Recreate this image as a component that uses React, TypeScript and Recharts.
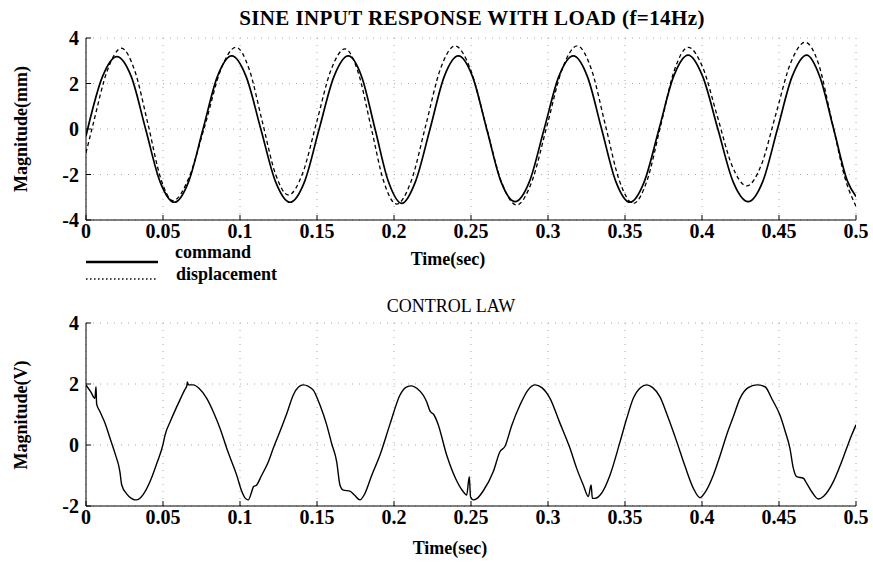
import React from 'react';
import { LineChart, Line, XAxis, YAxis, CartesianGrid } from 'recharts';

const xTicks = [0, 0.05, 0.1, 0.15, 0.2, 0.25, 0.3, 0.35, 0.4, 0.45, 0.5];
const topYTicks = [-4, -2, 0, 2, 4];
const bottomYTicks = [-2, 0, 2, 4];

const topTitle = 'SINE INPUT RESPONSE WITH LOAD (f=14Hz)';
const bottomTitle = 'CONTROL LAW';
const xLabel = 'Time(sec)';
const topYLabel = 'Magnitude(mm)';
const bottomYLabel = 'Magnitude(V)';
const legendNames = ['command', 'displacement'];

const commandTime = [0, 0.0107, 0.020, 0.0294, 0.0387, 0.048, 0.0574, 0.0667, 0.076, 0.0853, 0.0946, 0.104, 0.1135, 0.123, 0.1325, 0.142, 0.1514, 0.161, 0.1703, 0.179, 0.1877, 0.1963, 0.205, 0.214, 0.2234, 0.2326, 0.2418, 0.251, 0.2602, 0.2694, 0.2786, 0.288, 0.2975, 0.307, 0.3164, 0.3256, 0.3348, 0.344, 0.3532, 0.3626, 0.3721, 0.3815, 0.391, 0.4005, 0.4103, 0.4201, 0.430, 0.4395, 0.449, 0.4585, 0.468, 0.4765, 0.4855, 0.4945, 0.5];
const commandValue = [-0.3, 2.3, 3.18, 2.3, 0, -2.3, -3.22, -2.3, 0, 2.3, 3.21, 2.3, 0, -2.3, -3.22, -2.3, 0, 2.3, 3.21, 2.3, 0, -2.3, -3.27, -2.3, 0, 2.3, 3.21, 2.3, 0, -2.3, -3.19, -2.3, 0, 2.3, 3.21, 2.3, 0, -2.3, -3.22, -2.3, 0, 2.3, 3.25, 2.3, 0, -2.3, -3.19, -2.3, 0, 2.3, 3.25, 2.3, 0, -2.3, -2.97];

const displacementTime = [0, 0.0045, 0.0138, 0.023, 0.0316, 0.0403, 0.0485, 0.0565, 0.0667, 0.0775, 0.0875, 0.0974, 0.1059, 0.1144, 0.1229, 0.1314, 0.1406, 0.1498, 0.159, 0.1682, 0.1766, 0.185, 0.1933, 0.2017, 0.2112, 0.2207, 0.2301, 0.2396, 0.2496, 0.2597, 0.2697, 0.2797, 0.2895, 0.2994, 0.3092, 0.319, 0.3281, 0.3372, 0.3463, 0.3554, 0.3643, 0.3732, 0.3821, 0.391, 0.4005, 0.41, 0.4195, 0.429, 0.4385, 0.448, 0.4575, 0.467, 0.4755, 0.4845, 0.4935, 0.5];
const displacementValue = [-1.05, 0.18, 2.56, 3.55, 2.57, 0.2, -2.17, -3.15, -2.16, 0.22, 2.6, 3.59, 2.64, 0.35, -1.95, -2.9, -1.96, 0.31, 2.58, 3.52, 2.52, 0.11, -2.3, -3.3, -2.28, 0.18, 2.63, 3.65, 2.63, 0.16, -2.31, -3.34, -2.31, 0.16, 2.63, 3.65, 2.64, 0.19, -2.26, -3.27, -2.27, 0.16, 2.59, 3.59, 2.7, 0.55, -1.61, -2.5, -1.58, 0.66, 2.89, 3.81, 2.9, 0.3, -2.3, -3.4];

const controlTime = [0, 0.003, 0.0058, 0.0065, 0.0069, 0.0091, 0.0125, 0.0156, 0.019, 0.022, 0.0232, 0.0264, 0.0295, 0.0318, 0.034, 0.0372, 0.042, 0.046, 0.0502, 0.0512, 0.055, 0.061, 0.064, 0.0655, 0.0658, 0.0665, 0.0697, 0.0735, 0.0784, 0.083, 0.087, 0.092, 0.0978, 0.101, 0.1035, 0.1054, 0.1075, 0.1087, 0.1108, 0.114, 0.118, 0.1216, 0.126, 0.1305, 0.1346, 0.138, 0.1411, 0.1445, 0.1476, 0.152, 0.1563, 0.1595, 0.1628, 0.1649, 0.1671, 0.1714, 0.1745, 0.1779, 0.181, 0.1855, 0.1909, 0.1975, 0.2039, 0.208, 0.2115, 0.215, 0.2212, 0.2235, 0.2258, 0.2285, 0.2342, 0.24, 0.2445, 0.2472, 0.2489, 0.2497, 0.2515, 0.254, 0.258, 0.2645, 0.2688, 0.272, 0.2765, 0.2818, 0.287, 0.2916, 0.296, 0.3013, 0.3075, 0.3143, 0.3185, 0.3229, 0.3262, 0.328, 0.3288, 0.3305, 0.3345, 0.3403, 0.3468, 0.351, 0.3554, 0.36, 0.3641, 0.368, 0.3727, 0.378, 0.3836, 0.389, 0.3944, 0.3987, 0.402, 0.4074, 0.4117, 0.416, 0.4205, 0.4247, 0.43, 0.4355, 0.4409, 0.4455, 0.4506, 0.454, 0.4571, 0.4593, 0.4615, 0.4658, 0.468, 0.4715, 0.4755, 0.479, 0.4853, 0.4895, 0.4939, 0.497, 0.5];
const controlValue = [1.97, 1.75, 1.53, 1.91, 1.35, 1.09, 0.7, 0.22, -0.3, -0.87, -1.31, -1.6, -1.75, -1.8, -1.78, -1.62, -1.15, -0.6, 0.06, 0.3, 0.8, 1.48, 1.8, 1.95, 2.07, 1.97, 1.97, 1.85, 1.53, 1.05, 0.55, -0.2, -0.98, -1.5, -1.75, -1.8, -1.55, -1.37, -1.31, -1.0, -0.6, -0.11, 0.45, 1.05, 1.64, 1.9, 1.97, 1.92, 1.8, 1.3, 0.66, 0.05, -0.55, -1.31, -1.48, -1.51, -1.65, -1.8, -1.6, -1.0, -0.33, 0.7, 1.64, 1.9, 1.94, 1.85, 1.42, 1.1, 1.0, 0.7, -0.33, -1.1, -1.5, -1.64, -1.04, -1.7, -1.8, -1.75, -1.5, -0.87, -0.22, -0.05, 0.65, 1.31, 1.8, 1.97, 1.88, 1.53, 0.75, -0.11, -0.75, -1.31, -1.69, -1.31, -1.75, -1.75, -1.6, -0.98, 0.11, 0.85, 1.53, 1.88, 1.97, 1.88, 1.58, 0.9, 0.11, -0.7, -1.42, -1.73, -1.55, -0.98, -0.35, 0.33, 0.95, 1.53, 1.88, 1.97, 1.91, 1.5, 0.98, 0.45, -0.11, -0.76, -1.04, -1.09, -1.26, -1.55, -1.77, -1.68, -1.2, -0.7, -0.11, 0.3, 0.66];

const commandData = commandTime.map((t, i) => ({ t, v: commandValue[i] }));
const displacementData = displacementTime.map((t, i) => ({ t, v: displacementValue[i] }));
const controlData = controlTime.map((t, i) => ({ t, v: controlValue[i] }));

const FONT = '"Liberation Serif", "DejaVu Serif", serif';
const tickStyle = { fill: '#000', fontSize: 20, fontWeight: 700, fontFamily: FONT };
const blank = () => '';

function Panel({ height, marginTop, marginBottom, yTicks, yDomain, children }: any) {
  return (
    <LineChart
      width={873}
      height={height}
      margin={{ top: marginTop, right: 17, bottom: marginBottom, left: 26 }}
    >
      <CartesianGrid stroke="#a8a8a8" strokeDasharray="1 6" strokeWidth={1} />
      <XAxis
        dataKey="t"
        type="number"
        domain={[0, 0.5]}
        ticks={xTicks}
        allowDataOverflow
        height={30}
        tickSize={-5}
        tickMargin={9}
        tick={tickStyle}
        stroke="#000"
        tickFormatter={(v: number) => String(v)}
        interval={0}
      />
      <XAxis
        xAxisId="top"
        orientation="top"
        dataKey="t"
        type="number"
        domain={[0, 0.5]}
        ticks={xTicks}
        allowDataOverflow
        height={0}
        tickSize={-5}
        tickFormatter={blank}
        stroke="#000"
        interval={0}
      />
      <YAxis
        type="number"
        domain={yDomain}
        ticks={yTicks}
        allowDataOverflow
        width={60}
        tickSize={-5}
        tickMargin={12}
        tick={tickStyle}
        stroke="#000"
        interval={0}
      />
      <YAxis
        yAxisId="right"
        orientation="right"
        type="number"
        domain={yDomain}
        ticks={yTicks}
        allowDataOverflow
        width={0}
        tickSize={-5}
        tickFormatter={blank}
        stroke="#000"
        interval={0}
      />
      {children}
    </LineChart>
  );
}

export default function App() {
  return (
    <div style={{ position: 'absolute', left: 0, top: 0, width: 873, height: 568, background: '#fff', overflow: 'hidden' }}>
      <div style={{ position: 'absolute', left: 0, top: 0 }}>
        <Panel height={290} marginTop={38} marginBottom={40} yTicks={topYTicks} yDomain={[-4, 4]}>
          <Line data={commandData} dataKey="v" type="monotone" stroke="#000" strokeWidth={1.7} dot={false} isAnimationActive={false} />
          <Line data={displacementData} dataKey="v" type="monotone" stroke="#000" strokeWidth={1.3} strokeDasharray="4 3" dot={false} isAnimationActive={false} />
        </Panel>
      </div>
      <div style={{ position: 'absolute', left: 0, top: 285 }}>
        <Panel height={283} marginTop={38} marginBottom={32} yTicks={bottomYTicks} yDomain={[-2, 4]}>
          <Line data={controlData} dataKey="v" type="monotone" stroke="#000" strokeWidth={1.4} dot={false} isAnimationActive={false} />
        </Panel>
      </div>
      <svg width={873} height={568} style={{ position: 'absolute', left: 0, top: 0, pointerEvents: 'none' }}>
        <text x={472} y={25} textAnchor="middle" fontFamily={FONT} fontSize={21} fontWeight={700} letterSpacing={0.4} fill="#000">{topTitle}</text>
        <text x={451} y={312} textAnchor="middle" fontFamily={FONT} fontSize={18} fontWeight={400} fill="#000">{bottomTitle}</text>
        <text x={448} y={265} textAnchor="middle" fontFamily={FONT} fontSize={18} fontWeight={700} fill="#000">{xLabel}</text>
        <text x={450} y={554} textAnchor="middle" fontFamily={FONT} fontSize={18} fontWeight={700} fill="#000">{xLabel}</text>
        <text transform="translate(27,129) rotate(-90)" textAnchor="middle" fontFamily={FONT} fontSize={18} fontWeight={700} fill="#000">{topYLabel}</text>
        <text transform="translate(27,415) rotate(-90)" textAnchor="middle" fontFamily={FONT} fontSize={18} fontWeight={700} fill="#000">{bottomYLabel}</text>
        <line x1={86} x2={158} y1={262} y2={262} stroke="#000" strokeWidth={2.5} />
        <text x={175} y={258} fontFamily={FONT} fontSize={18} fontWeight={700} fill="#000">{legendNames[0]}</text>
        <line x1={86} x2={156} y1={279} y2={279} stroke="#000" strokeWidth={1.3} strokeDasharray="1.5 2.5" />
        <text x={176} y={280} fontFamily={FONT} fontSize={18} fontWeight={700} fill="#000">{legendNames[1]}</text>
      </svg>
    </div>
  );
}
